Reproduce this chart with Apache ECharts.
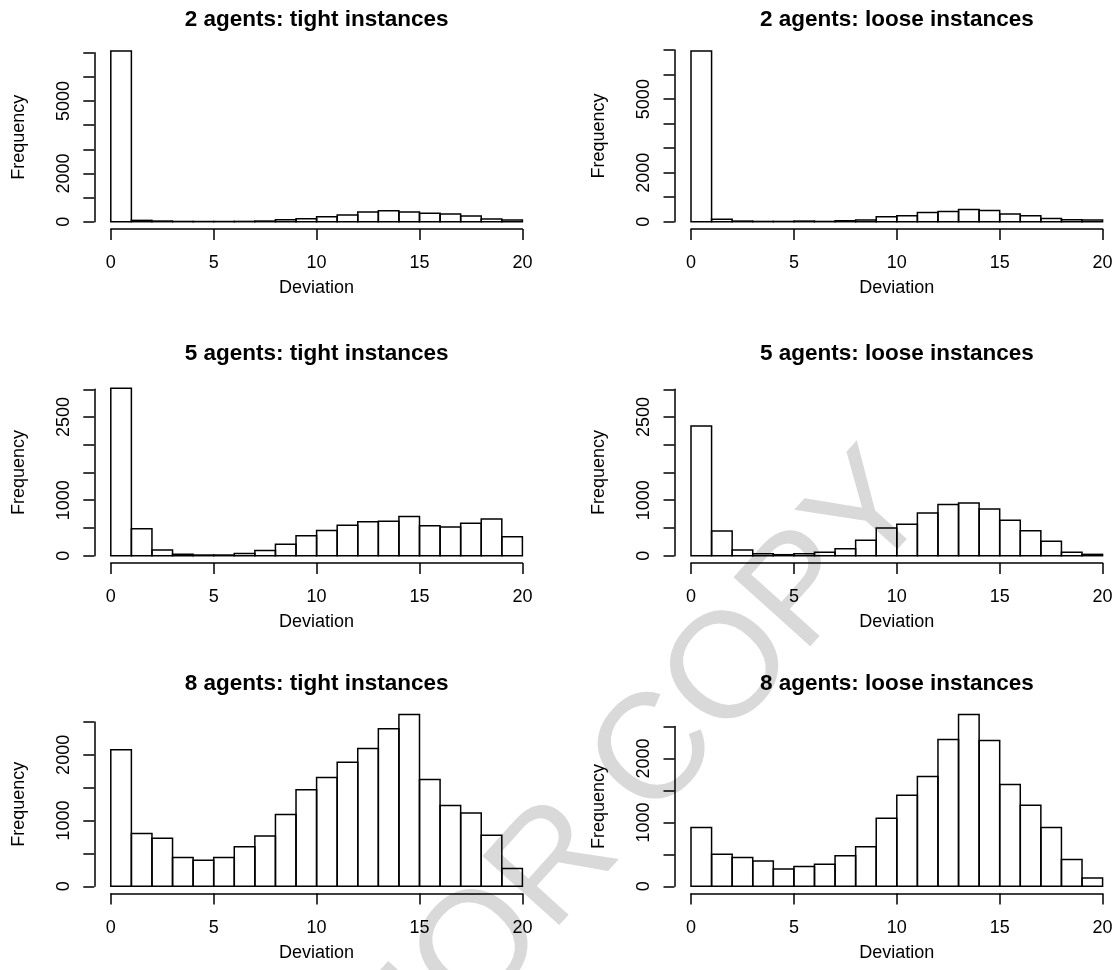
<!DOCTYPE html>
<html>
<head>
<meta charset="utf-8">
<script src="https://cdn.jsdelivr.net/npm/echarts@6/dist/echarts.min.js"></script>
<style>
html,body{margin:0;padding:0;background:#fff;}
#c{width:1117px;height:970px;}
</style>
</head>
<body>
<div id="c"></div>
<script>
// Bin starts (each bin is 1 unit wide)
const binStarts = [0,1,2,3,4,5,6,7,8,9,10,11,12,13,14,15,16,17,18,19];
const binWidth = 1;

const titles = [
  '2 agents: tight instances', '2 agents: loose instances',
  '5 agents: tight instances', '5 agents: loose instances',
  '8 agents: tight instances', '8 agents: loose instances'
];

const tight2 = [7068, 55, 27, 10, 8, 8, 12, 27, 80, 125, 205, 275, 400, 455, 400, 355, 315, 235, 110, 70];
const loose2 = [6960, 95, 25, 10, 10, 25, 10, 40, 65, 200, 240, 375, 420, 500, 460, 310, 240, 135, 80, 70];
const tight5 = [3020, 485, 105, 28, 12, 12, 40, 96, 205, 358, 455, 550, 614, 620, 705, 542, 518, 584, 663, 343];
const loose5 = [2337, 446, 102, 36, 18, 36, 60, 127, 277, 500, 566, 771, 922, 952, 843, 639, 452, 259, 60, 24];
const tight8 = [2076, 803, 730, 437, 396, 437, 602, 767, 1092, 1469, 1657, 1888, 2096, 2396, 2614, 1624, 1228, 1117, 777, 269];
const loose8 = [919, 501, 449, 397, 272, 308, 345, 480, 621, 1065, 1426, 1718, 2298, 2689, 2282, 1593, 1269, 919, 418, 131];

const xTicks = [0, 5, 10, 15, 20];
const yMax = [7000, 7000, 3000, 3000, 2500, 2500];
const yStep = [1000, 1000, 500, 500, 500, 500];
const yLabels = [[0, 2000, 5000], [0, 2000, 5000], [0, 1000, 2500], [0, 1000, 2500], [0, 1000, 2000], [0, 1000, 2000]];
const watermark = 'AUTHOR COPY';

const seriesData = [tight2, loose2, tight5, loose5, tight8, loose8];

const FONT = '"Liberation Sans", Arial, Helvetica, sans-serif';
// layout: pixel of x=0 and x=20, pixel of top tick and baseline
const colX = [[110.8, 522.4], [691, 1102.6]];
const rowY = [
  [[52.7, 221.7], [50.1, 221.7]],
  [[389.3, 555.7], [389.3, 555.7]],
  [[722, 886.3], [726.6, 886.3]]
];
const titleY = [8, 342, 672];
const LW = 1.5;

const grids = [], xAxes = [], yAxes = [], series = [], titleOpts = [];
for (let i = 0; i < 6; i++) {
  const r = Math.floor(i / 2), c = i % 2;
  const [x0, x1] = colX[c];
  const [yt, yb] = rowY[r][c];
  grids.push({ left: x0, width: x1 - x0, top: yt, height: yb - yt, containLabel: false });
  const labs = yLabels[i];
  xAxes.push({
    gridIndex: i, type: 'value', min: 0, max: 20, interval: 5, offset: 7.3,
    position: 'bottom',
    name: 'Deviation', nameLocation: 'middle', nameGap: 50.5,
    nameTextStyle: { fontFamily: FONT, fontSize: 18, color: '#000' },
    axisLine: { show: true, onZero: false, lineStyle: { color: '#000', width: LW } },
    axisTick: { show: true, length: 11, lineStyle: { color: '#000', width: LW } },
    axisLabel: { show: true, margin: 25.5, fontFamily: FONT, fontSize: 18, color: '#000',
      formatter: v => xTicks.indexOf(v) >= 0 ? String(v) : '' },
    splitLine: { show: false }
  });
  yAxes.push({
    gridIndex: i, type: 'value', min: 0, max: yMax[i], interval: yStep[i], offset: 16.5,
    position: 'left',
    name: 'Frequency', nameLocation: 'middle', nameGap: 66, nameRotate: 90,
    nameTextStyle: { fontFamily: FONT, fontSize: 18, color: '#000' },
    axisLine: { show: true, onZero: false, lineStyle: { color: '#000', width: LW } },
    axisTick: { show: true, length: 11, lineStyle: { color: '#000', width: LW } },
    axisLabel: { show: true, rotate: 90, margin: 21, fontFamily: FONT, fontSize: 18, color: '#000',
      formatter: v => labs.indexOf(v) >= 0 ? String(v) : '' },
    splitLine: { show: false }
  });
  const data = binStarts.map((s, k) => [s, s + binWidth, seriesData[i][k]]);
  series.push({
    type: 'custom', xAxisIndex: i, yAxisIndex: i, clip: false, z: 3,
    data: data,
    encode: { x: [0, 1], y: 2 },
    renderItem: function (params, api) {
      const p0 = api.coord([api.value(0), api.value(2)]);
      const p1 = api.coord([api.value(1), 0]);
      return {
        type: 'rect',
        shape: { x: p0[0], y: p0[1], width: p1[0] - p0[0], height: p1[1] - p0[1] },
        style: { fill: 'none', stroke: '#000', lineWidth: LW }
      };
    }
  });
  titleOpts.push({
    text: titles[i], left: (x0 - 16.5 + x1 + 16.5) / 2, top: titleY[r], textAlign: 'center', padding: 0,
    textStyle: { fontFamily: FONT, fontSize: 22.5, fontWeight: 'bold', color: '#000' }
  });
}

const chart = echarts.init(document.getElementById('c'), null, { renderer: 'canvas' });
chart.setOption({
  animation: false,
  backgroundColor: '#fff',
  title: titleOpts,
  grid: grids,
  xAxis: xAxes,
  yAxis: yAxes,
  series: series,
  graphic: [{
    type: 'text', z: 0, silent: true,
    x: 537, y: 888, rotation: 48 * Math.PI / 180,
    style: { text: watermark, fontFamily: FONT, fontSize: 150, fill: '#d9d9d9', textAlign: 'center', textVerticalAlign: 'middle' }
  }]
});
</script>
</body>
</html>
